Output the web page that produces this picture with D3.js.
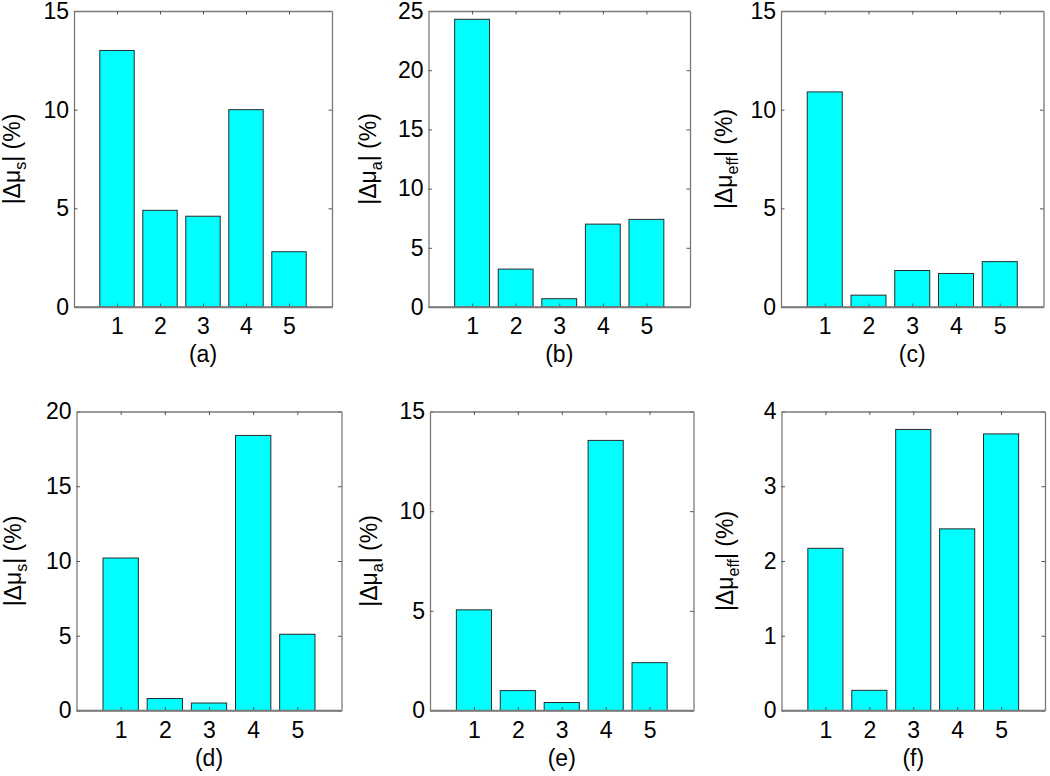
<!DOCTYPE html>
<html>
<head>
<meta charset="utf-8">
<script src="https://cdn.jsdelivr.net/npm/d3@7"></script>
<style>
  html, body { margin: 0; padding: 0; background: #fff; }
  svg { display: block; }
  text { font-family: "Liberation Sans", Arial, Helvetica, sans-serif; fill: #000; }
</style>
</head>
<body>
<svg id="chart" width="1050" height="776"></svg>
<script>
// ---------- data ----------
const categories = [1, 2, 3, 4, 5];
const valuesA = [13.0, 4.9, 4.6, 10.0, 2.8];
const valuesB = [24.3, 3.2, 0.7, 7.0, 7.4];
const valuesC = [10.9, 0.6, 1.85, 1.7, 2.3];
const valuesD = [10.2, 0.8, 0.5, 18.4, 5.1];
const valuesE = [5.05, 1.0, 0.4, 13.55, 2.4];
const valuesF = [2.17, 0.27, 3.76, 2.43, 3.70];

const yTicksA = [0, 5, 10, 15];
const yTicksB = [0, 5, 10, 15, 20, 25];
const yTicksC = [0, 5, 10, 15];
const yTicksD = [0, 5, 10, 15, 20];
const yTicksE = [0, 5, 10, 15];
const yTicksF = [0, 1, 2, 3, 4];

const panelLabels = ["(a)", "(b)", "(c)", "(d)", "(e)", "(f)"];
const yLabelSubs = ["s", "a", "eff", "s", "a", "eff"];

// ---------- layout (positions only) ----------
const layout = [
  { x0: 74,    x1: 332,    y0: 11,    y1: 307,   lab: 54 },
  { x0: 428.5, x1: 690,    y0: 11,    y1: 307,   lab: 53 },
  { x0: 781,   x1: 1043.5, y0: 11,    y1: 307,   lab: 49 },
  { x0: 76.5,  x1: 341.5,  y0: 411.5, y1: 710.5, lab: 56 },
  { x0: 430,   x1: 693.5,  y0: 411.5, y1: 710.5, lab: 53 },
  { x0: 781.5, x1: 1045,   y0: 411.5, y1: 710.5, lab: 49 }
];

const panels = [
  { values: valuesA, ticks: yTicksA },
  { values: valuesB, ticks: yTicksB },
  { values: valuesC, ticks: yTicksC },
  { values: valuesD, ticks: yTicksD },
  { values: valuesE, ticks: yTicksE },
  { values: valuesF, ticks: yTicksF }
];

const svg = d3.select("#chart");
const FONT = 23;
const TICK = 3.5;
const boxColor = "#7a7a7a";
const fmt = d3.format("d");

panels.forEach((p, i) => {
  const L = layout[i];
  const x = d3.scaleLinear().domain([0, 6]).range([L.x0, L.x1]);
  const y = d3.scaleLinear().domain([0, d3.max(p.ticks)]).range([L.y1, L.y0]);
  const g = svg.append("g");
  const bw = (x(1) - x(0)) * 0.8;

  // bars
  g.selectAll("rect.bar").data(p.values).enter().append("rect")
    .attr("class", "bar")
    .attr("x", (d, j) => x(categories[j]) - bw / 2)
    .attr("y", d => y(d))
    .attr("width", bw)
    .attr("height", d => y(0) - y(d))
    .attr("fill", "#00ffff")
    .attr("stroke", "#2a2a2a")
    .attr("stroke-width", 1);

  // axes with inward ticks
  const left = d3.axisLeft(y).tickValues(p.ticks).tickFormat(fmt).tickSizeInner(-TICK).tickSizeOuter(0).tickPadding(5);
  const right = d3.axisRight(y).tickValues(p.ticks).tickSizeInner(-TICK).tickSizeOuter(0).tickFormat("");
  const bottom = d3.axisBottom(x).tickValues(categories).tickFormat(fmt).tickSizeInner(-TICK).tickSizeOuter(0).tickPadding(11);
  const top = d3.axisTop(x).tickValues(categories).tickSizeInner(-TICK).tickSizeOuter(0).tickFormat("");

  const styleAxis = sel => {
    sel.selectAll("path.domain").attr("stroke", boxColor).attr("stroke-width", 1.3);
    sel.selectAll(".tick line").attr("stroke", "#555").attr("stroke-width", 1);
    sel.selectAll("text").attr("font-size", FONT).attr("fill", "#111")
      .attr("font-family", '"Liberation Sans", Arial, sans-serif');
  };

  g.append("g").attr("transform", `translate(${L.x0},0)`).call(left).call(styleAxis);
  g.append("g").attr("transform", `translate(${L.x1},0)`).call(right).call(styleAxis);
  g.append("g").attr("transform", `translate(0,${L.y1})`).call(bottom).call(styleAxis);
  g.append("g").attr("transform", `translate(0,${L.y0})`).call(top).call(styleAxis);

  // bottom domain drawn again over bar edges (MATLAB-like)
  g.append("line")
    .attr("x1", L.x0).attr("x2", L.x1).attr("y1", L.y1).attr("y2", L.y1)
    .attr("stroke", boxColor).attr("stroke-width", 1.3);

  // panel label
  g.append("text")
    .attr("x", (L.x0 + L.x1) / 2)
    .attr("y", L.y1 + 55)
    .attr("text-anchor", "middle")
    .attr("font-size", FONT)
    .text(panelLabels[i]);

  // y label
  const yl = g.append("text")
    .attr("transform", `translate(${L.x0 - L.lab},${(L.y0 + L.y1) / 2}) rotate(-90)`)
    .attr("text-anchor", "middle")
    .attr("font-size", FONT);
  yl.append("tspan").text("|\u0394\u03bc");
  yl.append("tspan").attr("font-size", 16).attr("dy", 6).text(yLabelSubs[i]);
  yl.append("tspan").attr("dy", -6).text("| (%)");
});
</script>
</body>
</html>
